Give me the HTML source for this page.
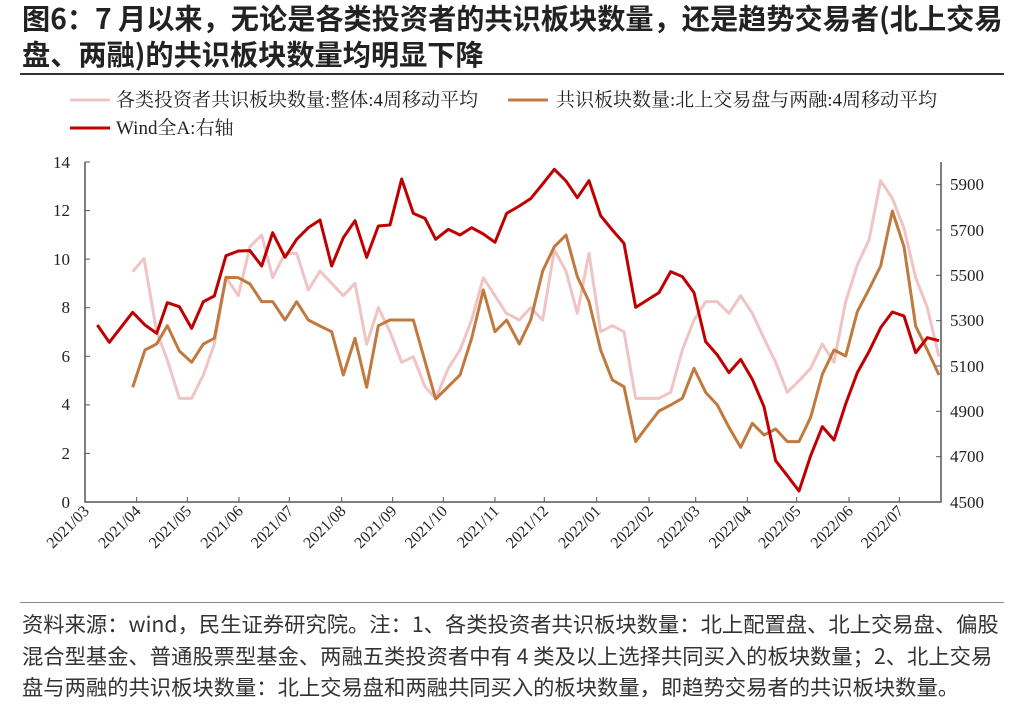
<!DOCTYPE html>
<html><head><meta charset="utf-8"><style>
body{margin:0;width:1024px;height:716px;background:#fff;overflow:hidden;font-family:"Liberation Sans","Noto Sans CJK SC",sans-serif}
.t{position:absolute;left:22px;top:0px;font-size:28.2px;font-weight:bold;line-height:36px;color:#222;font-family:"Noto Sans CJK SC",sans-serif;white-space:nowrap}
.f{position:absolute;left:22px;top:608px;font-size:21.3px;line-height:31.5px;color:#333;font-family:"Noto Sans CJK SC",sans-serif;white-space:nowrap}
</style></head><body>
<div class="t">图6：7 月以来，无论是各类投资者的共识板块数量，还是趋势交易者(北上交易<br>盘、两融)的共识板块数量均明显下降</div>
<div style="position:absolute;left:20px;top:73px;width:984px;height:2px;background:#333"></div>
<div style="position:absolute;left:20px;top:602px;width:984px;height:1px;background:#888"></div>
<div class="f">资料来源：wind，民生证券研究院。注：1、各类投资者共识板块数量：北上配置盘、北上交易盘、偏股<br>混合型基金、普通股票型基金、两融五类投资者中有 4 类及以上选择共同买入的板块数量；2、北上交易<br>盘与两融的共识板块数量：北上交易盘和两融共同买入的板块数量，即趋势交易者的共识板块数量。</div>
<svg width="1024" height="716" style="position:absolute;left:0;top:0" font-family="Liberation Serif,Noto Serif CJK SC,serif">
<g font-size="19" fill="#222">
<line x1="70" y1="100" x2="110" y2="100" stroke="#f0c4c4" stroke-width="3"/><text x="116" y="106">各类投资者共识板块数量:整体:4周移动平均</text>
<line x1="508" y1="100" x2="548" y2="100" stroke="#c07a40" stroke-width="3"/><text x="556" y="106">共识板块数量:北上交易盘与两融:4周移动平均</text>
<line x1="70" y1="128" x2="110" y2="128" stroke="#c00000" stroke-width="3"/><text x="116" y="134">Wind全A:右轴</text>
</g>
<g stroke="#555" stroke-width="1.5" fill="none">
<polyline points="85,162 85,502 941,502 941,162"/>
</g>
<g stroke="#555" stroke-width="1">
<line x1="85" y1="162" x2="90" y2="162"/><line x1="85" y1="210.6" x2="90" y2="210.6"/><line x1="85" y1="259.1" x2="90" y2="259.1"/><line x1="85" y1="307.7" x2="90" y2="307.7"/><line x1="85" y1="356.3" x2="90" y2="356.3"/><line x1="85" y1="404.9" x2="90" y2="404.9"/><line x1="85" y1="453.4" x2="90" y2="453.4"/>
<line x1="936" y1="184.7" x2="941" y2="184.7"/><line x1="936" y1="230" x2="941" y2="230"/><line x1="936" y1="275.3" x2="941" y2="275.3"/><line x1="936" y1="320.7" x2="941" y2="320.7"/><line x1="936" y1="366" x2="941" y2="366"/><line x1="936" y1="411.3" x2="941" y2="411.3"/><line x1="936" y1="456.7" x2="941" y2="456.7"/>
</g>
<g font-size="17" fill="#222" text-anchor="end">
<text x="70" y="168">14</text><text x="70" y="216">12</text><text x="70" y="265">10</text><text x="70" y="313">8</text><text x="70" y="362">6</text><text x="70" y="410">4</text><text x="70" y="459">2</text><text x="70" y="508">0</text>
</g>
<g font-size="17" fill="#222">
<text x="950" y="190">5900</text><text x="950" y="236">5700</text><text x="950" y="281">5500</text><text x="950" y="326">5300</text><text x="950" y="372">5100</text><text x="950" y="417">4900</text><text x="950" y="462">4700</text><text x="950" y="508">4500</text>
</g>
<g stroke="#555" stroke-width="1">
<line x1="136.7" y1="502" x2="136.7" y2="497"/><line x1="187.3" y1="502" x2="187.3" y2="497"/><line x1="239" y1="502" x2="239" y2="497"/><line x1="289.3" y1="502" x2="289.3" y2="497"/><line x1="341.7" y1="502" x2="341.7" y2="497"/><line x1="392.7" y1="502" x2="392.7" y2="497"/><line x1="443.3" y1="502" x2="443.3" y2="497"/><line x1="495" y1="502" x2="495" y2="497"/><line x1="544.3" y1="502" x2="544.3" y2="497"/><line x1="596.7" y1="502" x2="596.7" y2="497"/><line x1="649" y1="502" x2="649" y2="497"/><line x1="695.7" y1="502" x2="695.7" y2="497"/><line x1="747.3" y1="502" x2="747.3" y2="497"/><line x1="796.7" y1="502" x2="796.7" y2="497"/><line x1="849" y1="502" x2="849" y2="497"/><line x1="899.3" y1="502" x2="899.3" y2="497"/>
</g>
<g font-size="16" fill="#222" text-anchor="end">
<text transform="translate(90,512) rotate(-45)">2021/03</text>
<text transform="translate(141.7,512) rotate(-45)">2021/04</text>
<text transform="translate(192.3,512) rotate(-45)">2021/05</text>
<text transform="translate(244,512) rotate(-45)">2021/06</text>
<text transform="translate(294.3,512) rotate(-45)">2021/07</text>
<text transform="translate(346.7,512) rotate(-45)">2021/08</text>
<text transform="translate(397.7,512) rotate(-45)">2021/09</text>
<text transform="translate(448.3,512) rotate(-45)">2021/10</text>
<text transform="translate(500,512) rotate(-45)">2021/11</text>
<text transform="translate(549.3,512) rotate(-45)">2021/12</text>
<text transform="translate(601.7,512) rotate(-45)">2022/01</text>
<text transform="translate(654,512) rotate(-45)">2022/02</text>
<text transform="translate(700.7,512) rotate(-45)">2022/03</text>
<text transform="translate(752.3,512) rotate(-45)">2022/04</text>
<text transform="translate(801.7,512) rotate(-45)">2022/05</text>
<text transform="translate(854,512) rotate(-45)">2022/06</text>
<text transform="translate(904.3,512) rotate(-45)">2022/07</text>
</g>
<g fill="none" stroke-linejoin="round" stroke-width="3">
<g transform="translate(60,150) scale(0.33333)">
<polyline vector-effect="non-scaling-stroke" stroke="#f0c4c4" points="218,365 252,325 290,545 322,630 358,745 395,745 430,675 463,582 498,382 535,437 570,290 605,255 638,383 675,310 710,310 745,420 780,363 815,400 850,437 885,400 920,583 955,473 990,545 1025,637 1060,620 1095,710 1127,745 1165,655 1200,600 1235,510 1270,383 1305,437 1340,492 1342,490"/>
<polyline vector-effect="non-scaling-stroke" stroke="#c07a40" points="218,712 255,600 290,582 322,527 358,603 395,637 430,582 463,565 498,382 535,383 570,402 605,455 638,455 675,510 710,455 745,510 780,528 815,545 850,675 885,565 920,712 955,527 990,510 1025,510 1060,510 1127,747 1200,675 1235,565 1270,420 1305,545 1340,510 1342,510"/>
<polyline vector-effect="non-scaling-stroke" stroke="#c00000" points="112,525 148,577 218,487 255,525 290,550 322,458 358,470 395,535 430,455 463,438 498,317 535,303 570,302 605,348 638,248 675,322 710,268 745,233 780,210 815,348 850,263 885,212 920,322 955,228 990,225 1025,87 1060,190 1095,205 1127,268 1165,238 1200,255 1235,233 1270,252 1305,277 1340,190 1342,190"/>
</g>
<g transform="translate(490,150) scale(0.33333)">
<polyline vector-effect="non-scaling-stroke" stroke="#f0c4c4" points="50,490 88,510 122,473 158,510 193,300 228,363 262,490 297,310 332,545 367,527 402,545 437,745 472,745 507,745 542,727 577,600 612,510 647,455 682,455 717,490 752,437 787,490 822,565 857,637 892,727 927,692 962,655 997,582 1032,637 1067,455 1102,345 1137,270 1172,92 1207,145 1242,235 1277,383 1312,473 1347,620"/>
<polyline vector-effect="non-scaling-stroke" stroke="#c07a40" points="50,510 88,582 122,510 158,363 193,290 228,255 262,380 297,455 332,600 367,690 402,710 437,875 472,828 507,783 542,765 577,745 612,655 647,727 682,765 717,832 752,892 787,820 822,855 857,837 892,875 927,875 962,802 997,673 1032,600 1067,618 1102,485 1137,418 1172,348 1207,183 1242,290 1277,528 1312,600 1347,675"/>
<polyline vector-effect="non-scaling-stroke" stroke="#c00000" points="50,190 88,168 122,146 158,102 193,58 228,93 262,143 297,92 332,197 367,240 402,280 437,472 472,450 507,428 542,365 577,380 612,428 647,575 682,615 717,668 752,628 787,688 822,770 857,932 892,977 927,1023 962,917 997,830 1032,870 1067,762 1102,668 1137,605 1172,533 1207,486 1242,498 1277,608 1312,563 1347,572"/>
</g>
</g>
</svg>
</body></html>
